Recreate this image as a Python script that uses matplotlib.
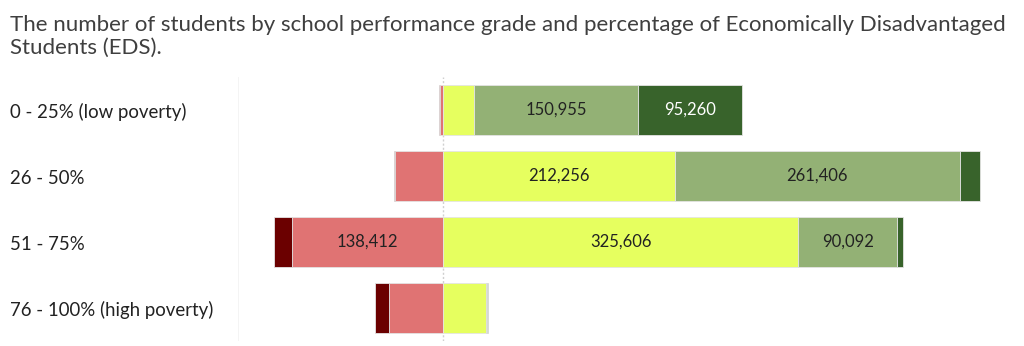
import matplotlib
matplotlib.use("Agg")
import matplotlib.pyplot as plt
import numpy as np

# Poverty bands (rows, top to bottom)
categories = ["0 - 25% (low poverty)", "26 - 50%", "51 - 75%", "76 - 100% (high poverty)"]

# Students by school performance grade in each band
grade_f = [1200, 1000, 16500, 12500]
grade_d = [2400, 43700, 138412, 49500]
grade_c = [28100, 212256, 325606, 39400]
grade_b = [150955, 261406, 90092, 1200]
grade_a = [95260, 18600, 5500, 1000]

title = ("The number of students by school performance grade and percentage of Economically Disadvantaged\n"
         "Students (EDS).")

col_f = "#6b0000"
col_d = "#e07373"
col_c = "#e6ff5f"
col_b = "#93b175"
col_a = "#38632b"

plt.rcParams["font.family"] = ["Lato", "DejaVu Sans"]

fig = plt.figure(figsize=(10.24, 3.46), dpi=100)
W, H = 1024, 346
ax_left, ax_right = 238, 1010
ax_top, ax_bottom = 77, 341
ax = fig.add_axes([ax_left / W, 1 - ax_bottom / H, (ax_right - ax_left) / W, (ax_bottom - ax_top) / H])

y = np.arange(len(categories))
h = 0.76
edge = dict(edgecolor="#e4e4e4", linewidth=0.6)

f = np.array(grade_f)
d = np.array(grade_d)
c = np.array(grade_c)
b = np.array(grade_b)
a = np.array(grade_a)

# Failing grades grow leftwards from zero, passing grades rightwards
bars_d = ax.barh(y, -d, height=h, color=col_d, **edge)
bars_f = ax.barh(y, -f, left=-d, height=h, color=col_f, **edge)
bars_c = ax.barh(y, c, height=h, color=col_c, **edge)
bars_b = ax.barh(y, b, left=c, height=h, color=col_b, **edge)
bars_a = ax.barh(y, a, left=c + b, height=h, color=col_a, **edge)

min_label = 85000
for bars, vals, tcol in [(bars_d, d, "#222222"), (bars_c, c, "#222222"),
                         (bars_b, b, "#222222"), (bars_a, a, "white")]:
    for rect, v in zip(bars, vals):
        if v >= min_label:
            ax.text(rect.get_x() + rect.get_width() / 2, rect.get_y() + rect.get_height() / 2,
                    f"{v:,}", ha="center", va="center", fontsize=12, color=tcol)

# scale: one pixel is about 916 students
scale = 916
ax.set_xlim(-(443 - ax_left) * scale, (ax_right - 443) * scale)
ax.set_ylim(len(categories) - 0.5, -0.5)

ax.axvline(0, color="#d0d0d0", linestyle=(0, (1.5, 1.5)), linewidth=1, zorder=0)
ax.axvline(ax.get_xlim()[0], color="#f2f2f2", linewidth=1.2, zorder=0)

for s in ax.spines.values():
    s.set_visible(False)
ax.set_xticks([])
ax.set_yticks([])

for yi, lab in zip(y, categories):
    fig.text(10 / W, 1 - (112 + 66 * yi) / H, lab, ha="left", va="center", fontsize=13.4, color="#222222")

fig.text(10 / W, 1 - 15 / H, title, ha="left", va="top", fontsize=16, color="#3f3f3f", linespacing=1.2)

fig.savefig("out.png", dpi=100, facecolor="white")
